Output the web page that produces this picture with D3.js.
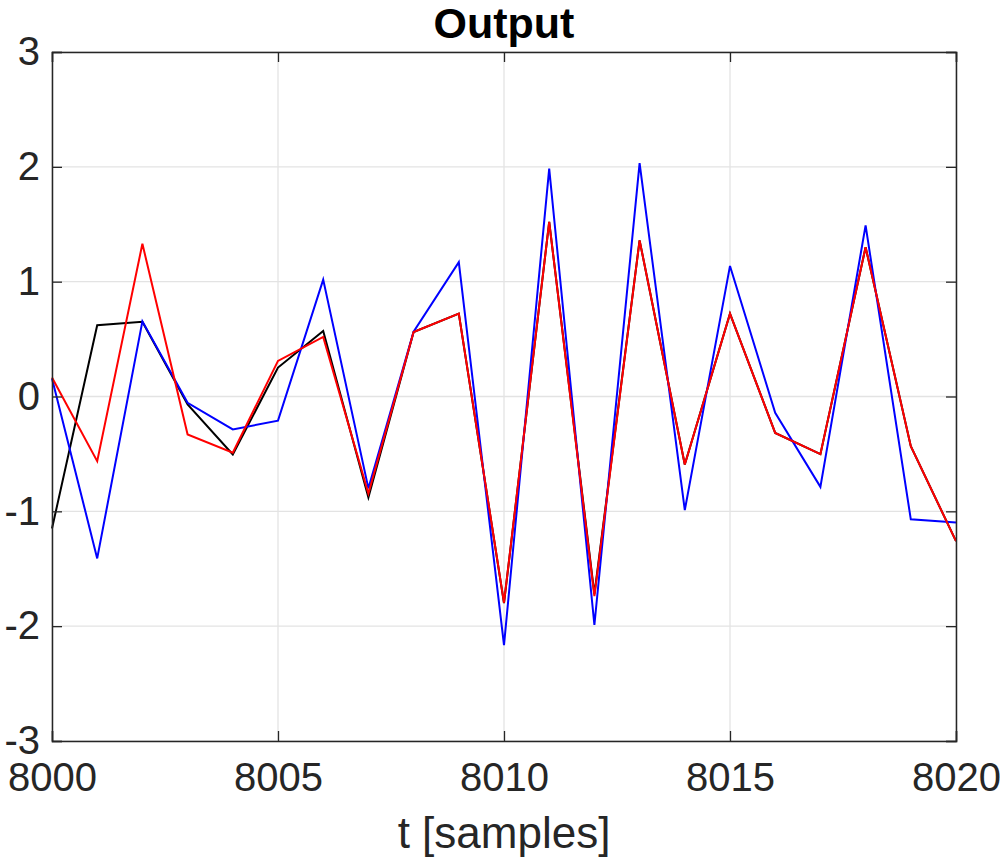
<!DOCTYPE html>
<html>
<head>
<meta charset="utf-8">
<script src="https://cdn.jsdelivr.net/npm/d3@7"></script>
<style>
    body { margin: 0; background: #fff; }
    svg { display: block; font-family: "Liberation Sans", Arial, Helvetica, sans-serif; }
</style>
</head>
<body>
<svg id="drawing_region"></svg>
<script>
// samples 8000..8020
const samples = [8000, 8001, 8002, 8003, 8004, 8005, 8006, 8007, 8008, 8009, 8010,
    8011, 8012, 8013, 8014, 8015, 8016, 8017, 8018, 8019, 8020];

const outputBlack = [-1.15, 0.62, 0.65, -0.07, -0.505, 0.252, 0.571, -0.879, 0.562, 0.722, -1.80,
    1.52, -1.72, 1.36, -0.592, 0.722, -0.317, -0.502, 1.30, -0.433, -1.26];
const outputBlue = [0.157, -1.41, 0.655, -0.055, -0.287, -0.21, 1.018, -0.80, 0.565, 1.17, -2.165,
    1.984, -1.99, 2.033, -0.99, 1.137, -0.142, -0.787, 1.49, -1.07, -1.097];
const outputRed = [0.165, -0.563, 1.33, -0.33, -0.49, 0.31, 0.519, -0.845, 0.562, 0.722, -1.796,
    1.52, -1.738, 1.36, -0.592, 0.722, -0.317, -0.502, 1.30, -0.433, -1.26];

const xTicks = [8000, 8005, 8010, 8015, 8020];
const yTicks = [-3, -2, -1, 0, 1, 2, 3];
const titleText = "Output";
const xLabelText = "t [samples]";

class outputChart {
    constructor(config) {
        this.config = {
            parent: config.parent,
            width: config.width || 256,
            height: config.height || 256,
            margin: config.margin || { top: 10, right: 10, bottom: 10, left: 10 }
        };
        this.init();
    }

    init() {
        let self = this;
        self.svg = d3.select(self.config.parent)
            .attr('width', self.config.width)
            .attr('height', self.config.height);
        self.inner_width = self.config.width - self.config.margin.left - self.config.margin.right;
        self.inner_height = self.config.height - self.config.margin.top - self.config.margin.bottom;
        self.chart = self.svg.append('g')
            .attr('transform', `translate(${self.config.margin.left}, ${self.config.margin.top})`);

        self.xscale = d3.scaleLinear().domain([8000, 8020]).range([0, self.inner_width]);
        self.yscale = d3.scaleLinear().domain([-3, 3]).range([self.inner_height, 0]);
    }

    render() {
        let self = this;
        const axisColor = '#262626';
        const tickLen = 10;

        // grid
        self.chart.append('g').selectAll('line.vgrid')
            .data(xTicks).enter().append('line')
            .attr('x1', d => self.xscale(d)).attr('x2', d => self.xscale(d))
            .attr('y1', 0).attr('y2', self.inner_height)
            .attr('stroke', '#e3e3e3').attr('stroke-width', 1.3);
        self.chart.append('g').selectAll('line.hgrid')
            .data(yTicks).enter().append('line')
            .attr('y1', d => self.yscale(d)).attr('y2', d => self.yscale(d))
            .attr('x1', 0).attr('x2', self.inner_width)
            .attr('stroke', '#e3e3e3').attr('stroke-width', 1.3);

        // lines
        const series = [
            { values: outputBlack, color: '#000000' },
            { values: outputBlue, color: '#0000ff' },
            { values: outputRed, color: '#ff0000' }
        ];
        const valueline = d3.line()
            .x((d, i) => self.xscale(samples[i]))
            .y(d => self.yscale(d));
        series.forEach(s => {
            self.chart.append('path')
                .datum(s.values)
                .attr('d', valueline)
                .attr('fill', 'none')
                .attr('stroke', s.color)
                .attr('stroke-width', 2)
                .attr('stroke-linejoin', 'miter');
        });

        // axes (ticks inward, box on)
        const fmt = d => String(d);
        const xBottom = d3.axisBottom(self.xscale).tickValues(xTicks).tickSize(-tickLen).tickPadding(22).tickFormat(fmt);
        const xTop = d3.axisTop(self.xscale).tickValues(xTicks).tickSize(-tickLen).tickFormat('');
        const yLeft = d3.axisLeft(self.yscale).tickValues(yTicks).tickSize(-tickLen).tickPadding(12).tickFormat(fmt);
        const yRight = d3.axisRight(self.yscale).tickValues(yTicks).tickSize(-tickLen).tickFormat('');

        const gx = self.chart.append('g').attr('transform', `translate(0, ${self.inner_height})`).call(xBottom);
        const gxt = self.chart.append('g').call(xTop);
        const gy = self.chart.append('g').call(yLeft);
        const gyr = self.chart.append('g').attr('transform', `translate(${self.inner_width}, 0)`).call(yRight);

        [gx, gxt, gy, gyr].forEach(g => {
            g.select('.domain').attr('stroke', axisColor).attr('stroke-width', 1.5);
            g.selectAll('.tick line').attr('stroke', axisColor).attr('stroke-width', 1.3);
            g.selectAll('.tick text')
                .attr('fill', axisColor)
                .style('font-size', '40px')
                .style('font-family', '"Liberation Sans", Arial, sans-serif');
        });

        // title and x label
        self.svg.append('text')
            .attr('x', self.config.margin.left + self.inner_width / 2)
            .attr('y', 38)
            .attr('text-anchor', 'middle')
            .style('font-size', '43px')
            .style('font-weight', 'bold')
            .attr('fill', '#000')
            .text(titleText);

        self.svg.append('text')
            .attr('x', self.config.margin.left + self.inner_width / 2)
            .attr('y', 848)
            .attr('text-anchor', 'middle')
            .style('font-size', '44px')
            .attr('fill', axisColor)
            .text(xLabelText);
    }
}

const config = {
    parent: '#drawing_region',
    width: 1000,
    height: 861,
    margin: { top: 52, right: 44, bottom: 120, left: 52 }
};
const chart = new outputChart(config);
chart.render();
</script>
</body>
</html>
